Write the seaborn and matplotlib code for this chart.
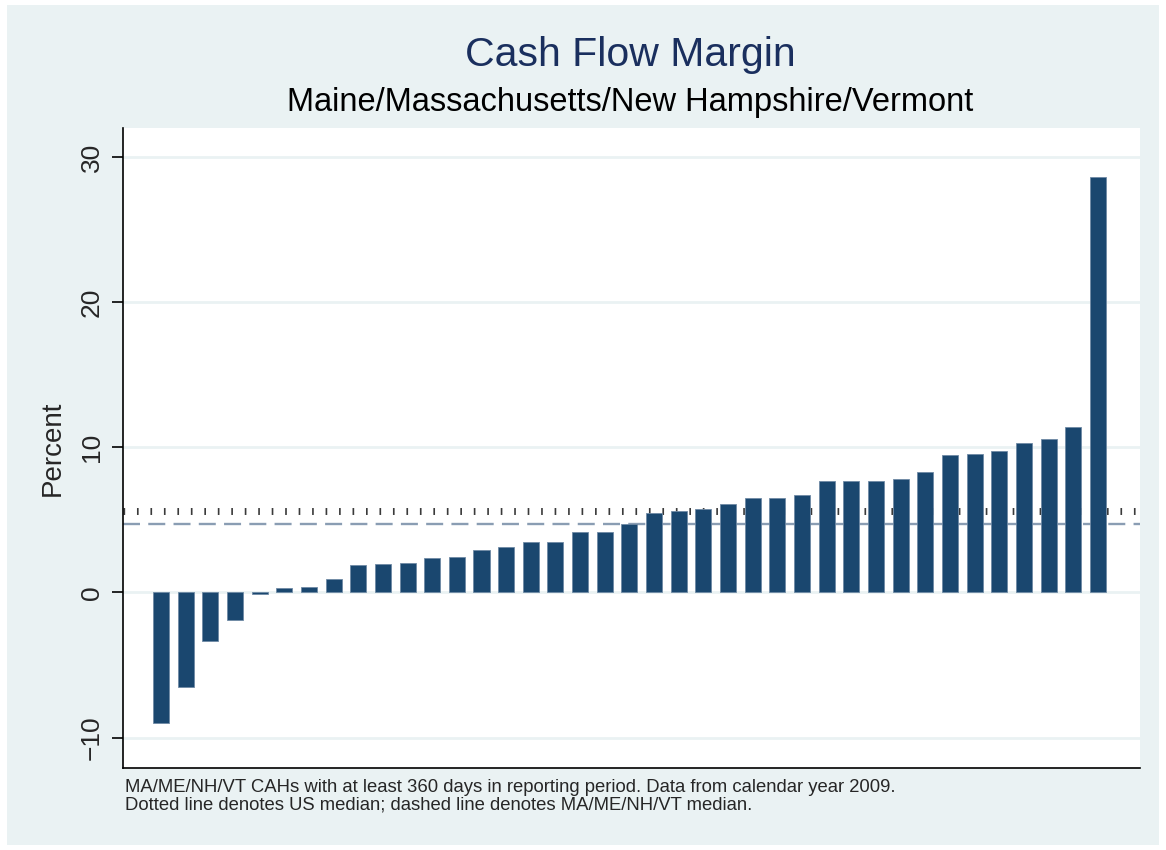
import numpy as np
import pandas as pd
import matplotlib
matplotlib.use("Agg")
import matplotlib.pyplot as plt
import seaborn as sns
from matplotlib.patches import Rectangle

# Cash flow margin (%) per hospital, sorted
margin = [-9.0, -6.5, -3.35, -1.9, -0.1, 0.28, 0.37, 0.92, 1.86, 1.95,
          2.02, 2.41, 2.43, 2.9, 3.15, 3.5, 3.5, 4.15, 4.15, 4.7,
          5.45, 5.6, 5.75, 6.1, 6.5, 6.5, 6.7, 7.7, 7.7, 7.7,
          7.84, 8.3, 9.47, 9.54, 9.75, 10.3, 10.55, 11.38, 28.64]
us_median = 5.6
region_median = 4.7
yticks = [-10, 0, 10, 20, 30]

title = "Cash Flow Margin"
subtitle = "Maine/Massachusetts/New Hampshire/Vermont"
notes = ("MA/ME/NH/VT CAHs with at least 360 days in reporting period. Data from calendar year 2009.\n"
         "Dotted line denotes US median; dashed line denotes MA/ME/NH/VT median.")

df = pd.DataFrame({"rank": range(len(margin)), "margin": margin})

sns.set_style("white")
plt.rcParams['font.family'] = ['Liberation Sans', 'DejaVu Sans']

bg = "#eaf2f3"
fig = plt.figure(figsize=(11.66, 8.5), dpi=100, facecolor="white")
fig.patches.append(Rectangle((0.006, 0.006), 0.988, 0.988, transform=fig.transFigure,
                             facecolor=bg, edgecolor="none", zorder=-10))
ax = fig.add_axes([0.1055, 0.0965, 0.872, 0.7525])
ax.set_facecolor("white")

# reference lines behind bars
ax.axhline(region_median, color="#8a9db3", lw=1.7, linestyle=(0, (7.2, 3.5)), zorder=1)
ax.axhline(us_median, color="#3a3a3a", lw=5.0, linestyle=(0, (0.24, 1.7)),
           dash_capstyle="butt", zorder=1)

sns.barplot(data=df, x="rank", y="margin", color="#1a476f", saturation=1,
            width=0.65, edgecolor="#6f8aa5", linewidth=0.6, ax=ax, zorder=3)

ax.set_xlim(-1.54, 39.7)
ax.set_ylim(-12.1, 32.0)
ax.set_yticks(yticks)
ax.set_yticklabels([str(t).replace("-", "\u2212") for t in yticks], rotation=90,
                   va="center", fontsize=19)
ax.yaxis.grid(True, color=bg, lw=2)
ax.set_axisbelow(True)
ax.set_xticks([])
ax.set_xlabel("")
ax.set_ylabel("Percent", fontsize=20, labelpad=10)
ax.tick_params(axis="y", direction="out", length=8, width=1.2, color="black", pad=6, left=True)
for s in ["top", "right"]:
    ax.spines[s].set_visible(False)
for s in ["left", "bottom"]:
    ax.spines[s].set_color("black")
    ax.spines[s].set_linewidth(1.2)

fig.text(0.541, 0.935, title, ha="center", va="center", fontsize=29.5, color="#1a2f5e")
fig.text(0.54, 0.879, subtitle, ha="center", va="center", fontsize=23.5, color="black")
fig.text(0.107, 0.084, notes, ha="left", va="top", fontsize=13.3, linespacing=1.05)

fig.savefig("out.png", dpi=100, facecolor=fig.get_facecolor())
